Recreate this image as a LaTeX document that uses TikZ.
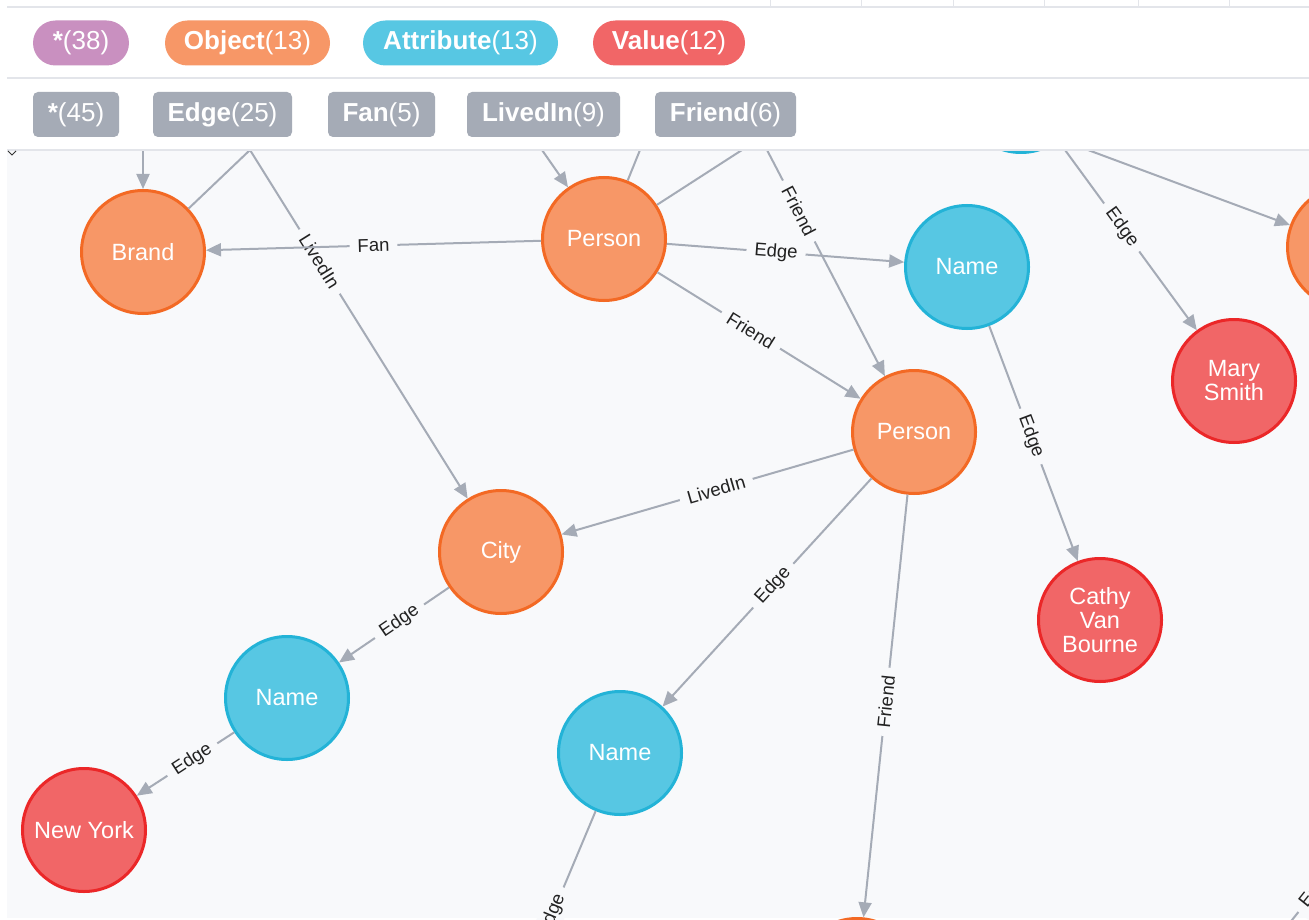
\documentclass[tikz,border=0pt]{standalone}
\usepackage{fontspec}
\setmainfont{Liberation Sans}
\usetikzlibrary{arrows.meta}
\definecolor{bg}{HTML}{F8F9FB}
\definecolor{hdrline}{HTML}{E3E5EA}
\definecolor{ofill}{HTML}{F79767}
\definecolor{oline}{HTML}{F36924}
\definecolor{cfill}{HTML}{57C7E3}
\definecolor{cline}{HTML}{23B3D7}
\definecolor{rfill}{HTML}{F16667}
\definecolor{rline}{HTML}{EB2728}
\definecolor{pfill}{HTML}{C990C0}
\definecolor{gfill}{HTML}{A5ABB6}
\definecolor{edgec}{HTML}{A5ABB6}
\definecolor{lblc}{HTML}{222222}
\begin{document}
\begin{tikzpicture}[x=1pt,y=-1pt,
  gnode/.style={circle, minimum size=123pt, inner sep=0pt, line width=3pt, text=white, font=\fontsize{23.5}{24}\selectfont, align=center},
  obj/.style={gnode, fill=ofill, draw=oline},
  attr/.style={gnode, fill=cfill, draw=cline},
  val/.style={gnode, fill=rfill, draw=rline},
  edge/.style={draw=edgec, line width=2pt, -{Triangle[length=15pt,width=13pt]}},
  link/.style={draw=edgec, line width=2pt},
  elabel/.style={sloped, fill=bg, inner xsep=8pt, inner ysep=4pt, text=lblc, font=\fontsize{18.5}{19}\selectfont},
  pill/.style={rounded corners=22.5pt, minimum height=45pt, inner sep=0pt, text=white, font=\fontsize{26}{27}\selectfont},
  tagbox/.style={rounded corners=5pt, fill=gfill, minimum height=45pt, inner sep=0pt, text=white, font=\fontsize{26}{27}\selectfont}
]
\useasboundingbox (0,0) rectangle (1309,920);
\clip (0,0) rectangle (1309,920);
\fill[white] (0,0) rectangle (1309,920);
\fill[bg] (7,150) rectangle (1309,918);

% nodes
\node[obj] (brand) at (143,252) {Brand};
\node[obj] (p1) at (604,239) {Person};
\node[attr] (n1) at (967,267) {Name};
\node[obj] (p2) at (914,432) {Person};
\node[obj] (city) at (501,552) {City};
\node[attr] (n2) at (287,698) {Name};
\node[attr] (n3) at (620,753) {Name};
\node[val] (ny) at (84,830) {New York};
\node[val] (mary) at (1234,381) {Mary\\Smith};
\node[val] (cathy) at (1100,620) {Cathy\\Van\\Bourne};
\node[obj] (rp) at (1349,247) {};
\node[obj] (bp) at (857,980) {};
\node[attr] (tn) at (1021,91) {};

% free ends at the header edge / off canvas
\coordinate (tA) at (143,150);
\coordinate (tB) at (250,150);
\coordinate (tC) at (542,150);
\coordinate (tD) at (640,150);
\coordinate (tE) at (742,150);
\coordinate (tF) at (767,150);
\coordinate (tG) at (1065,150);
\coordinate (tH) at (1088,150);
\coordinate (tI) at (492,1058);
\coordinate (tJ) at (1268,950);
\coordinate (tK) at (1364,830);

% edges
\draw[edge] (tA) -- (brand);
\draw[link] (tB) -- (brand);
\draw[edge] (tB) -- node[elabel,pos=0.32]{LivedIn} (city);
\draw[edge] (tC) -- (p1);
\draw[link] (tD) -- (p1);
\draw[link] (tE) -- (p1);
\draw[edge] (tF) -- node[elabel,pos=0.27]{Friend} (p2);
\draw[edge] (p1) -- node[elabel,pos=0.5]{Fan} (brand);
\draw[edge] (p1) -- node[elabel,pos=0.46]{Edge} (n1);
\draw[edge] (p1) -- node[elabel,pos=0.46]{Friend} (p2);
\draw[edge] (tG) -- node[elabel,pos=0.43]{Edge} (mary);
\draw[edge] (tH) -- (rp);
\draw[edge] (n1) -- node[elabel,pos=0.47]{Edge} (cathy);
\draw[edge] (p2) -- node[elabel,pos=0.47]{LivedIn} (city);
\draw[edge] (p2) -- node[elabel,pos=0.47]{Edge} (n3);
\draw[edge] (p2) -- node[elabel,pos=0.49]{Friend} (bp);
\draw[edge] (city) -- node[elabel,pos=0.45]{Edge} (n2);
\draw[edge] (n2) -- node[elabel,pos=0.43]{Edge} (ny);
\draw[link, shorten >=63pt] (n3) -- node[elabel,pos=0.42]{Edge} (tI);
\draw[link] (tJ) -- node[elabel,pos=0.51]{Edge} (tK);

% header
\fill[white] (0,0) rectangle (1309,149);
\draw[hdrline, line width=1.5pt] (7,7) -- (1309,7);
\foreach \x in {770,861,953,1044,1138,1229} \draw[hdrline, line width=1pt] (\x,0) -- (\x,7);
\draw[hdrline, line width=1.5pt] (7,78) -- (1309,78);
\draw[hdrline, line width=1.5pt] (7,150) -- (1309,150);
\draw[black!80, line width=1pt] (8,151) -- (12,155) -- (16,151);

\node[pill, fill=pfill, minimum width=96pt] (lall) at (81,43) {\textbf{*}(38)};
\node[pill, fill=ofill, minimum width=165pt] (lobj) at (247.5,43) {\textbf{Object}(13)};
\node[pill, fill=cfill, minimum width=195pt] (lattr) at (460.5,43) {\textbf{Attribute}(13)};
\node[pill, fill=rfill, minimum width=152pt] (lval) at (669,43) {\textbf{Value}(12)};

\node[tagbox, minimum width=86pt] (rall) at (76,114.5) {\textbf{*}(45)};
\node[tagbox, minimum width=139pt] (redge) at (222.5,114.5) {\textbf{Edge}(25)};
\node[tagbox, minimum width=107pt] (rfan) at (381.5,114.5) {\textbf{Fan}(5)};
\node[tagbox, minimum width=153pt] (rliv) at (543.5,114.5) {\textbf{LivedIn}(9)};
\node[tagbox, minimum width=141pt] (rfri) at (725.5,114.5) {\textbf{Friend}(6)};
\end{tikzpicture}
\end{document}
